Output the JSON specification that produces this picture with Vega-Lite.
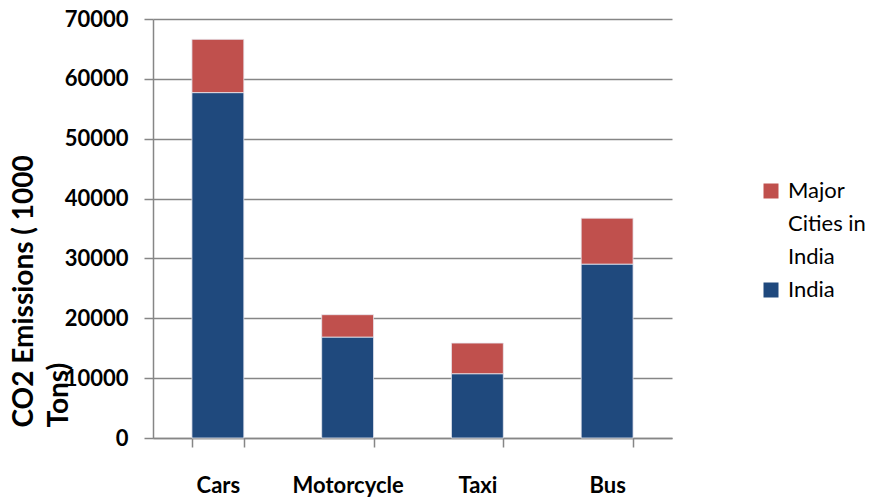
{
  "$schema": "https://vega.github.io/schema/vega-lite/v6.json",
  "width": 519,
  "height": 419,
  "autosize": {"type": "none"},
  "padding": {"left": 153, "top": 19, "right": 204, "bottom": 62},
  "background": "white",
  "config": {
    "font": "Lato",
    "view": {"stroke": null},
    "style": {"guide-label": {"lineHeight": 33}}
  },
  "data": {
    "values": [
      {"mode": "Cars", "series": "India", "value": 57700},
      {"mode": "Cars", "series": "Major Cities in India", "value": 8900},
      {"mode": "Motorcycle", "series": "India", "value": 16860},
      {"mode": "Motorcycle", "series": "Major Cities in India", "value": 3740},
      {"mode": "Taxi", "series": "India", "value": 10740},
      {"mode": "Taxi", "series": "Major Cities in India", "value": 5120},
      {"mode": "Bus", "series": "India", "value": 29050},
      {"mode": "Bus", "series": "Major Cities in India", "value": 7680}
    ]
  },
  "mark": {"type": "bar", "stroke": "#e8e8f0", "strokeWidth": 0.8},
  "encoding": {
    "x": {
      "field": "mode",
      "type": "nominal",
      "sort": ["Cars", "Motorcycle", "Taxi", "Bus"],
      "scale": {"paddingInner": 0.6, "paddingOuter": 0.3},
      "axis": {
        "title": null,
        "labelAngle": 0,
        "labelFont": "Lato",
        "labelFontWeight": "bold",
        "labelFontSize": 22,
        "labelColor": "black",
        "labelPadding": 28,
        "tickBand": "extent",
        "tickSize": 9,
        "tickColor": "#868686",
        "tickWidth": 1.5,
        "domainColor": "#868686",
        "domainWidth": 1.5,
        "grid": false
      }
    },
    "y": {
      "field": "value",
      "type": "quantitative",
      "stack": "zero",
      "scale": {"domain": [0, 70000], "nice": false},
      "axis": {
        "values": [0, 10000, 20000, 30000, 40000, 50000, 60000, 70000],
        "format": "d",
        "labelFont": "Lato",
        "labelFontWeight": "bold",
        "labelFontSize": 22,
        "labelColor": "black",
        "labelPadding": 16,
        "tickSize": 9,
        "tickColor": "#868686",
        "tickWidth": 1.5,
        "domainColor": "#868686",
        "domainWidth": 1.5,
        "grid": true,
        "gridColor": "#868686",
        "gridWidth": 1.5,
        "title": ["CO2 Emissions ( 1000", "Tons)"],
        "titleFont": "Lato",
        "titleFontWeight": "bold",
        "titleFontSize": 28,
        "titleColor": "black",
        "titleAngle": -90,
        "titleAlign": "left",
        "titleBaseline": "top",
        "titleLineHeight": 35,
        "titleX": -143,
        "titleY": 408
      }
    },
    "color": {
      "field": "series",
      "type": "nominal",
      "scale": {
        "domain": ["Major Cities in India", "India"],
        "range": ["#C0504D", "#1F497D"]
      },
      "legend": {
        "title": null,
        "orient": "none",
        "legendX": 607,
        "legendY": 161,
        "symbolType": "square",
        "symbolSize": 225,
        "symbolStrokeWidth": 0,
        "labelFont": "Lato",
        "labelFontSize": 22,
        "labelColor": "black",
        "labelOffset": 6,
        "labelExpr": "datum.label == 'Major Cities in India' ? ['Major', 'Cities in', 'India'] : datum.label",
        "rowPadding": 11,
        "encode": {
          "labels": {
            "enter": {"lineHeight": {"value": 33}},
            "update": {"lineHeight": {"value": 33}}
          }
        }
      }
    },
    "order": {"field": "series", "sort": "ascending"}
  }
}
